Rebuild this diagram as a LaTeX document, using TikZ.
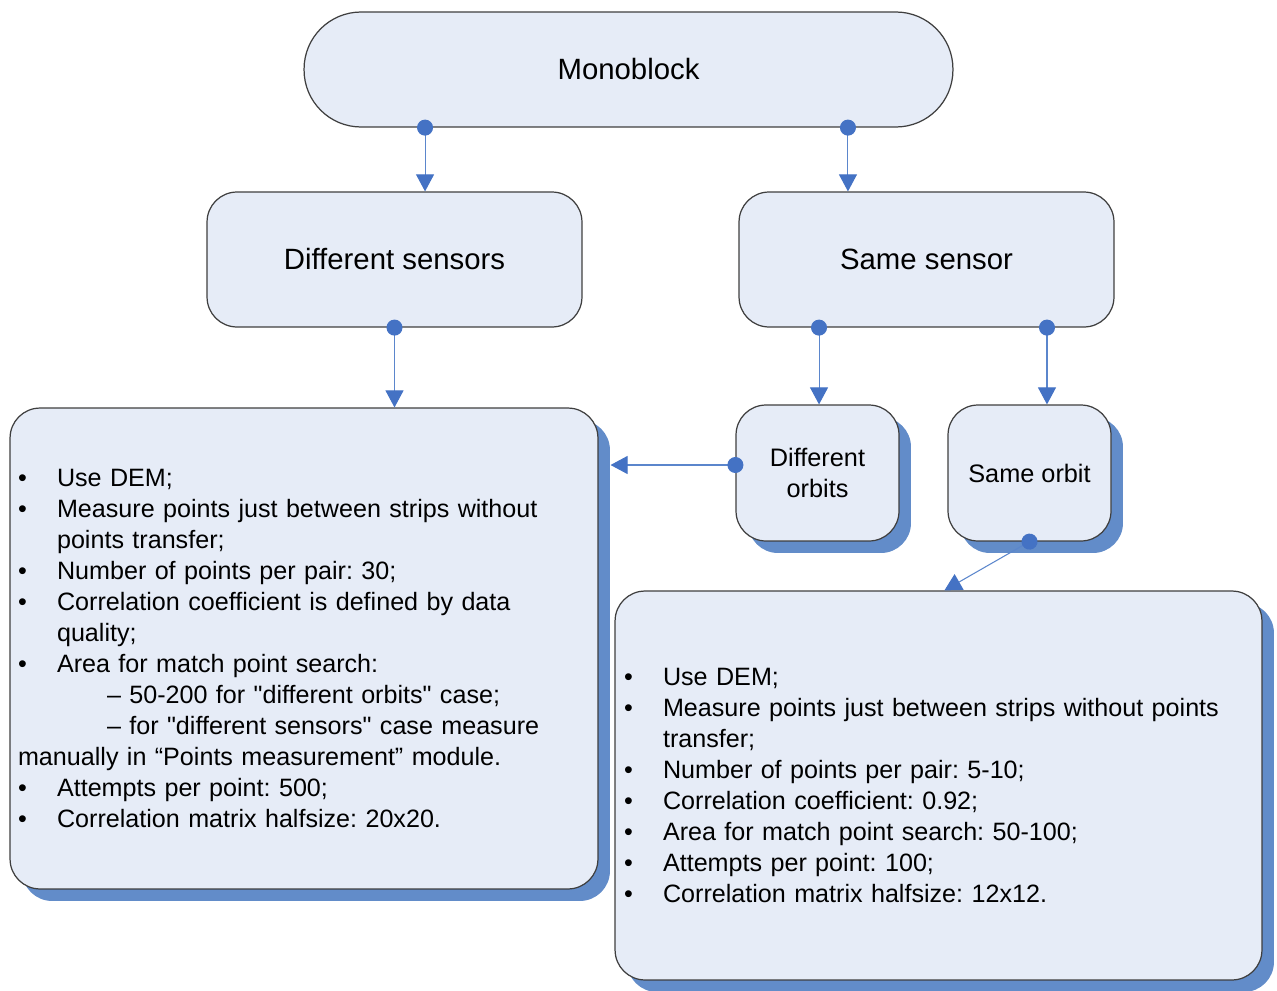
\documentclass[tikz,border=0pt]{standalone}
\usepackage{fontspec}
\setmainfont{Liberation Sans}[Ligatures=TeXOff]
\usepackage{tikz}
\usetikzlibrary{arrows.meta,shadows}
\definecolor{MBFill}{HTML}{E6ECF7}
\definecolor{MBLine}{HTML}{3F3F3F}
\definecolor{MBShadow}{HTML}{628CC9}
\definecolor{MBDot}{HTML}{4472C4}
\definecolor{MBConn}{HTML}{5B86CC}
\newcommand\blt{\makebox[0.78cm][l]{\textbullet}}
\newcommand\ind{\hspace*{0.78cm}}
\newcommand\subind{\hspace*{1.78cm}}
\frenchspacing

\begin{document}
\begin{tikzpicture}[x=0.02cm,y=-0.02cm,
  box/.style={draw=MBLine,line width=0.7pt,fill=MBFill,align=center,
    rounded corners=0.6cm,font=\fontsize{16.7}{19}\selectfont},
  shadowbox/.style={box,drop shadow={shadow xshift=0.24cm,shadow yshift=-0.24cm,
    fill=MBShadow,opacity=1}},
  smallbox/.style={shadowbox,minimum width=3.26cm,minimum height=2.72cm,
    inner sep=0pt,font=\fontsize{14.4}{17.64}\selectfont},
  listbox/.style={shadowbox,align=left,font=\fontsize{14.3}{17.64}\selectfont},
  conn/.style={MBConn,line width=0.6pt,shorten <=-0.16cm,
    arrows={Circle[length=0.32cm,color=MBDot,fill=MBDot]-Triangle[width=0.36cm,length=0.34cm,color=MBDot,fill=MBDot]}}]
\path[use as bounding box] (0,0) rectangle (1277,990);

% top level
\node[box,rounded corners=1.14cm,minimum width=12.98cm,minimum height=2.3cm] (mono) at (628.5,69.5) {Monoblock};
\node[box,minimum width=7.5cm,minimum height=2.7cm] (ds) at (394.5,259.5) {Different sensors};
\node[box,minimum width=7.5cm,minimum height=2.7cm] (ss) at (926.5,259.5) {Same sensor};

% orbit cases
\node[smallbox] (do) at (817.5,473) {Different\\orbits};
\node[smallbox] (so) at (1029.5,473) {Same orbit};

% parameter lists
\node[listbox,inner xsep=0.16cm,text width=11.44cm,minimum height=9.62cm] (lb) at (304,648.5) {%
\blt Use DEM;\\
\blt Measure points just between strips without\\
\ind points transfer;\\
\blt Number of points per pair: 30;\\
\blt Correlation coefficient is defined by data\\
\ind quality;\\
\blt Area for match point search:\\
\subind – 50-200 for "different orbits" case;\\
\subind – for "different sensors" case measure\\
manually in “Points measurement” module.\\
\blt Attempts per point: 500;\\
\blt Correlation matrix halfsize: 20x20.};
\node[listbox,inner xsep=0.18cm,text width=12.58cm,minimum height=7.78cm] (rb) at (938.5,785.5) {%
\blt Use DEM;\\
\blt Measure points just between strips without points\\
\ind transfer;\\
\blt Number of points per pair: 5-10;\\
\blt Correlation coefficient: 0.92;\\
\blt Area for match point search: 50-100;\\
\blt Attempts per point: 100;\\
\blt Correlation matrix halfsize: 12x12.};

% connector ends
\coordinate (mono-l) at ([xshift=-4.07cm]mono.south);
\coordinate (mono-r) at ([xshift=4.39cm]mono.south);
\coordinate (ss-l) at ([xshift=-2.15cm]ss.south);
\coordinate (ss-r) at ([xshift=2.41cm]ss.south);
\coordinate (do-w) at ([yshift=0.16cm]do.west);
\coordinate (lb-sh) at ([xshift=0.24cm]lb.east);
\coordinate (rb-in) at ([xshift=6.6cm]rb.north west);

\draw[conn] (mono-l) -- (mono-l |- ds.north);
\draw[conn] (mono-r) -- (mono-r |- ss.north);
\draw[conn] (ds.south) -- (lb.north -| ds.south);
\draw[conn] (ss-l) -- (ss-l |- do.north);
\draw[conn] (ss-r) -- (ss-r |- so.north);
\draw[conn] (do-w) -- (do-w -| lb-sh);
\draw[conn] (so.south) -- (rb-in);
\end{tikzpicture}
\end{document}
